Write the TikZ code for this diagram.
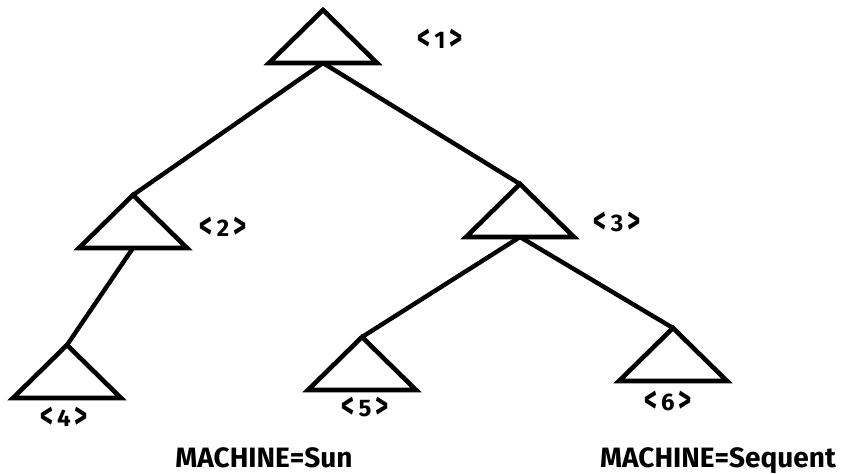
\documentclass[tikz,border=0pt]{standalone}
\usepackage{fontspec}
\setmainfont{Fira Sans}
\newcommand{\opentag}{\raisebox{-0.18ex}{\scalebox{1.05}[1.55]{<}}}
\newcommand{\shuttag}{\raisebox{-0.18ex}{\scalebox{1.05}[1.55]{>}}}
\tikzset{
  tri/.style={line width=4.6pt, line join=miter},
  edge/.style={line width=4.4pt},
  tag/.style={font=\fontsize{24}{26}\selectfont\bfseries, inner sep=0pt},
  caption/.style={font=\fontsize{28}{30}\selectfont\bfseries, inner sep=0pt, anchor=base}
}
\begin{document}
\begin{tikzpicture}[x=1pt,y=-1pt]
\useasboundingbox (0,0) rectangle (844,474);
% the triangles, top and foot of each
\foreach \n/\x/\y in {1/323/10, 2/133/195, 3/520/184, 4/67/345, 5/362/337, 6/673/328}
{
  \draw[tri] (\x,\y) coordinate (top\n) -- ++(-54,53) -- ++(108,0) -- cycle;
  \coordinate (foot\n) at (\x,\y+53);
}
% the tree edges
\draw[edge] (foot1) -- (top2);
\draw[edge] (foot1) -- (top3);
\draw[edge] (foot2) -- (top4);
\draw[edge] (foot3) -- (top5);
\draw[edge] (foot3) -- (top6);
% the numbers
\node[tag] (tag1) at (440,40) {\opentag\,1\,\shuttag};
\node[tag] (tag2) at (223,228) {\opentag\,2\,\shuttag};
\node[tag] (tag3) at (617,223) {\opentag\,3\,\shuttag};
\node[tag] (tag4) at (64,418) {\opentag\,4\,\shuttag};
\node[tag] (tag5) at (365,408) {\opentag\,5\,\shuttag};
\node[tag] (tag6) at (668,402) {\opentag\,6\,\shuttag};
% the machines
\node[caption] (sun) at (264,467) {MACHINE=Sun};
\node[caption] (sequent) at (718,467) {MACHINE=Sequent};
\end{tikzpicture}
\end{document}
